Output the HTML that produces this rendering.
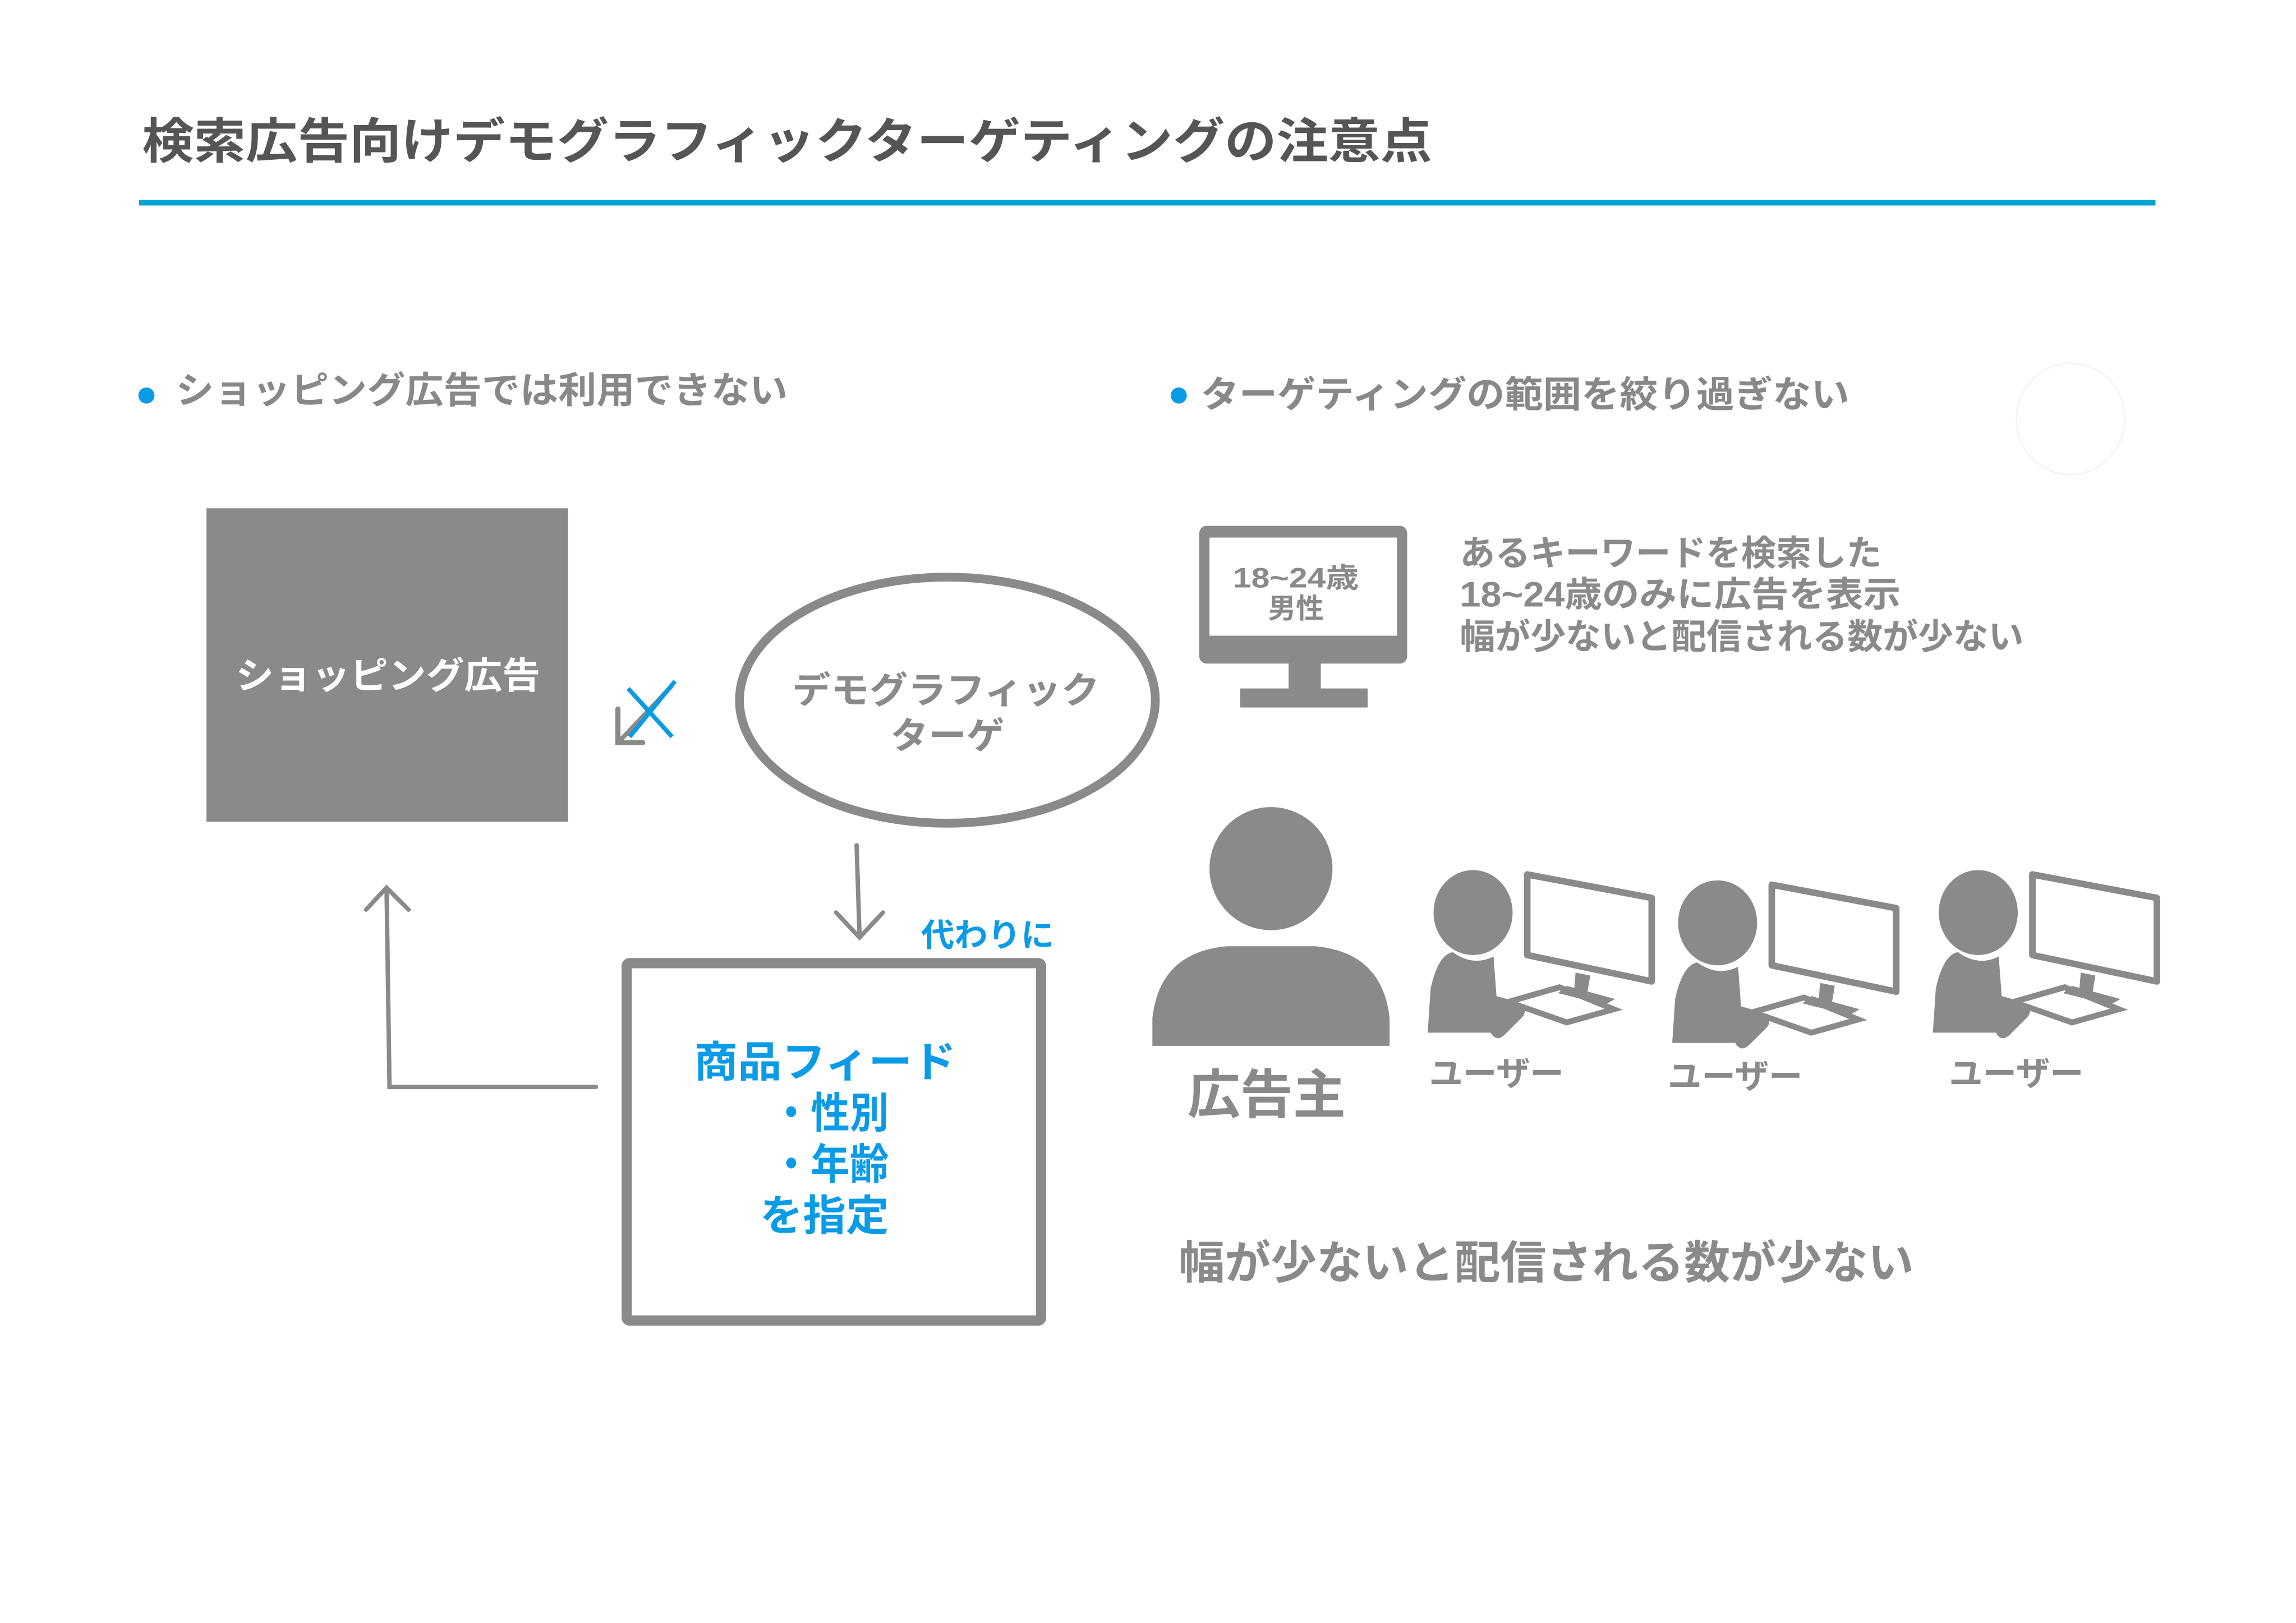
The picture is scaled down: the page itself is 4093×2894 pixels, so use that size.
<!DOCTYPE html>
<html><head><meta charset="utf-8"><style>
html,body{margin:0;padding:0;background:#fff;}
svg{display:block;}
text{font-family:"Liberation Sans","Noto Sans CJK JP",sans-serif;font-weight:bold;}
</style></head><body>
<svg width="4093" height="2894" viewBox="0 0 1568 1108" preserveAspectRatio="none" xmlns="http://www.w3.org/2000/svg">
<rect width="1568" height="1108" fill="#fff"/>
<text x="97" y="108" font-size="33" fill="#555" textLength="881" lengthAdjust="spacingAndGlyphs">検索広告向けデモグラフィックターゲティングの注意点</text>
<rect x="95" y="136.5" width="1377" height="3.8" fill="#08a2d4"/>

<circle cx="100" cy="270" r="5.5" fill="#0a9be6"/>
<text x="120" y="275" font-size="25" fill="#888" textLength="418" lengthAdjust="spacingAndGlyphs">ショッピング広告では利用できない</text>
<circle cx="805" cy="270" r="5.5" fill="#0a9be6"/>
<text x="820" y="278" font-size="25" fill="#888" textLength="443" lengthAdjust="spacingAndGlyphs">ターゲティングの範囲を絞り過ぎない</text>
<ellipse cx="1414" cy="286" rx="37" ry="38" fill="none" stroke="#eef4f6" stroke-width="1"/>

<!-- left -->
<rect x="141" y="347" width="247" height="214" fill="#8a8a88"/>
<text x="161" y="470" font-size="25" fill="#fff" textLength="208" lengthAdjust="spacingAndGlyphs">ショッピング広告</text>

<line x1="459" y1="468" x2="423" y2="506" stroke="#8a8a88" stroke-width="3"/>
<polyline points="422,484 422,507 439,507" fill="none" stroke="#8a8a88" stroke-width="3.5" stroke-linecap="round"/>
<line x1="429" y1="470" x2="459" y2="503" stroke="#0a9be6" stroke-width="3"/>
<line x1="461" y1="465" x2="430" y2="503" stroke="#0a9be6" stroke-width="3"/>

<ellipse cx="647" cy="478" rx="142" ry="84" fill="#fff" stroke="#8a8a88" stroke-width="6"/>
<text x="541" y="480" font-size="25" fill="#8a8a88" textLength="210" lengthAdjust="spacingAndGlyphs">デモグラフィック</text>
<text x="608" y="511" font-size="25" fill="#8a8a88" textLength="78" lengthAdjust="spacingAndGlyphs">ターゲ</text>

<line x1="585" y1="577" x2="587" y2="639" stroke="#8a8a88" stroke-width="3" stroke-linecap="round"/>
<polyline points="571,623 587,640 603,623" fill="none" stroke="#8a8a88" stroke-width="3" stroke-linecap="round"/>
<text x="629" y="646" font-size="22" fill="#0a9be6" textLength="91" lengthAdjust="spacingAndGlyphs">代わりに</text>

<rect x="428" y="657.5" width="283" height="244" fill="#fff" stroke="#8a8a88" stroke-width="7" rx="2"/>
<text x="474" y="735" font-size="29" fill="#0a9be6" textLength="179" lengthAdjust="spacingAndGlyphs">商品フィード</text>
<text x="527" y="770" font-size="29" fill="#0a9be6" textLength="80" lengthAdjust="spacingAndGlyphs">・性別</text>
<text x="527" y="805" font-size="29" fill="#0a9be6" textLength="80" lengthAdjust="spacingAndGlyphs">・年齢</text>
<text x="519" y="840" font-size="29" fill="#0a9be6" textLength="88" lengthAdjust="spacingAndGlyphs">を指定</text>

<polyline points="407,742 266,742 264,607" fill="none" stroke="#8a8a88" stroke-width="3" stroke-linecap="round"/>
<polyline points="250,621 264,606 279,621" fill="none" stroke="#8a8a88" stroke-width="3" stroke-linecap="round"/>

<!-- right monitor -->
<rect x="819" y="359" width="142" height="94" rx="5" fill="#8a8a88"/>
<rect x="826" y="367" width="128" height="67" fill="#fff"/>
<rect x="880" y="452" width="22" height="19" fill="#8a8a88"/>
<rect x="847" y="470" width="87" height="13" fill="#8a8a88"/>
<text x="842" y="401" font-size="19" fill="#8a8a88" textLength="86" lengthAdjust="spacingAndGlyphs">18~24歳</text>
<text x="866" y="422" font-size="19" fill="#8a8a88" textLength="38" lengthAdjust="spacingAndGlyphs">男性</text>

<text x="997" y="386" font-size="24" fill="#8a8a88" textLength="288" lengthAdjust="spacingAndGlyphs">あるキーワードを検索した</text>
<text x="997" y="414" font-size="24" fill="#8a8a88" textLength="301" lengthAdjust="spacingAndGlyphs">18~24歳のみに広告を表示</text>
<text x="997" y="443" font-size="24" fill="#8a8a88" textLength="385" lengthAdjust="spacingAndGlyphs">幅が少ないと配信される数が少ない</text>

<!-- advertiser -->
<circle cx="868" cy="593" r="42" fill="#8a8a88"/>
<path d="M787,714 L787,695 Q792,650 838,646 L898,646 Q944,650 949,695 L949,714 Z" fill="#8a8a88"/>
<text x="811" y="760" font-size="36" fill="#8a8a88" textLength="108" lengthAdjust="spacingAndGlyphs">広告主</text>

<!-- users -->
<defs>
<g id="u">
<ellipse cx="1006" cy="623" rx="27" ry="29" fill="#8a8a88"/>
<polygon points="1043,597 1128,613 1128,670 1043,652" fill="none" stroke="#8a8a88" stroke-width="4.5" stroke-linejoin="round"/>
<polygon points="1076,664 1086,666 1084,678 1075,676" fill="#8a8a88"/>
<polygon points="1070,673 1103,682 1096,686 1064,678" fill="#8a8a88"/>
<polygon points="1030,684 1065,674 1102,689 1070,698" fill="none" stroke="#8a8a88" stroke-width="4"/>
<path d="M975,705 L977,675 Q982,652 992,650 Q1006,660 1020,653 L1022,680 L1036,684 Q1044,688 1040,694 L1028,706 Q1022,712 1018,705 L975,705 Z" fill="#8a8a88"/>
</g>
</defs>
<use href="#u"/>
<use href="#u" transform="translate(167,7)"/>
<use href="#u" transform="translate(345,0)"/>
<text x="976" y="741" font-size="23" fill="#8a8a88" textLength="92" lengthAdjust="spacingAndGlyphs">ユーザー</text>
<text x="1139" y="743" font-size="23" fill="#8a8a88" textLength="92" lengthAdjust="spacingAndGlyphs">ユーザー</text>
<text x="1331" y="741" font-size="23" fill="#8a8a88" textLength="92" lengthAdjust="spacingAndGlyphs">ユーザー</text>

<text x="805" y="873" font-size="31" fill="#8a8a88" textLength="502" lengthAdjust="spacingAndGlyphs">幅が少ないと配信される数が少ない</text>
</svg>
</body></html>
